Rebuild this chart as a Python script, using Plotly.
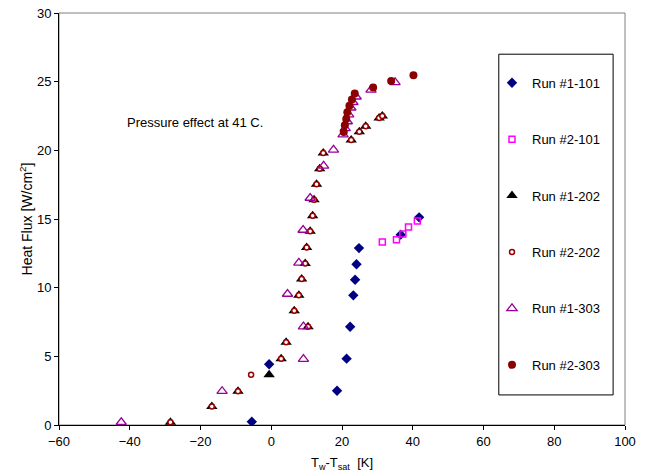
import plotly.graph_objects as go

# ---- data ----
run1_101_x = [-5.5, 18.6, -0.6, 21.3, 22.3, 23.2, 23.7, 24.1, 24.8, 36.6, 41.8]
run1_101_y = [0.24, 2.49, 4.42, 4.83, 7.15, 9.44, 10.58, 11.71, 12.88, 13.86, 15.12]

run2_101_x = [31.4, 35.4, 37.2, 38.8, 41.3]
run2_101_y = [13.33, 13.48, 13.91, 14.42, 14.86]

run1_202_x = [-28.5, -16.8, -9.4, -0.6, 2.8, 4.2, 10.4, 6.5, 7.8, 8.6, 9.6, 10.0, 11.0, 11.7,
              12.1, 12.8, 13.7, 14.7, 22.6, 24.9, 26.7, 30.5, 31.4]
run1_202_y = [0.2, 1.35, 2.46, 3.65, 4.82, 6.02, 7.15, 8.32, 9.44, 10.63, 11.76, 12.92, 14.1, 15.23,
              16.4, 17.53, 18.66, 19.8, 20.75, 21.35, 21.75, 22.35, 22.5]

run2_202_x = [-28.5, -16.8, -9.4, -5.7, 2.8, 4.2, 10.4, 6.5, 7.8, 8.6, 9.6, 10.0, 11.0, 11.7,
              12.1, 12.8, 13.7, 14.7, 22.6, 24.9, 26.7, 30.5, 31.4]
run2_202_y = [0.2, 1.35, 2.46, 3.66, 4.82, 6.02, 7.15, 8.32, 9.44, 10.63, 11.76, 12.92, 14.1, 15.23,
              16.4, 17.53, 18.66, 19.8, 20.75, 21.35, 21.75, 22.35, 22.5]

run1_303_x = [-42.4, -13.9, 9.1, 9.1, 4.6, 7.8, 9.0, 11.0, 14.8, 17.6, 20.3, 20.9, 21.5, 21.9,
              22.5, 23.1, 24.0, 28.2, 35.0]
run1_303_y = [0.2, 2.46, 4.8, 7.17, 9.54, 11.81, 14.2, 16.53, 18.87, 20.03, 21.15, 21.6, 22.1, 22.6,
              23.1, 23.5, 23.9, 24.4, 24.95]

run2_303_x = [20.5, 20.8, 21.2, 21.5, 22.1, 22.8, 23.6, 28.8, 33.9, 40.2]
run2_303_y = [21.33, 21.82, 22.28, 22.77, 23.25, 23.7, 24.13, 24.58, 25.04, 25.47]

x_ticks = [-60, -40, -20, 0, 20, 40, 60, 80, 100]
y_ticks = [0, 5, 10, 15, 20, 25, 30]

FONT = "Liberation Sans, Arial, sans-serif"

fig = go.Figure()

series = [
    ("Run #1-101", run1_101_x, run1_101_y, dict(symbol="diamond", size=8, color="#000080",
                                                 line=dict(width=0))),
    ("Run #2-101", run2_101_x, run2_101_y, dict(symbol="square-open", size=6, color="#FF00FF",
                                                 line=dict(width=1.5))),
    ("Run #1-202", run1_202_x, run1_202_y, dict(symbol="triangle-up", size=10, color="#000000",
                                                 line=dict(width=0))),
    ("Run #2-202", run2_202_x, run2_202_y, dict(symbol="circle", size=5, color="#FFFFFF",
                                                 line=dict(width=1.5, color="#990000"))),
    ("Run #1-303", run1_303_x, run1_303_y, dict(symbol="triangle-up-open", size=9, color="#990099",
                                                 line=dict(width=1.3))),
    ("Run #2-303", run2_303_x, run2_303_y, dict(symbol="circle", size=8, color="#8B0000",
                                                 line=dict(width=0))),
]

for i, (name, xs, ys, mk) in enumerate(series):
    fig.add_trace(go.Scatter(x=xs, y=ys, mode="markers", name=name, marker=mk,
                             legendgroup=f"g{i}"))

fig.update_layout(
    width=649, height=476,
    margin=dict(l=59, r=24, t=13, b=51),
    paper_bgcolor="white", plot_bgcolor="white",
    font=dict(family=FONT, size=13, color="#000000"),
    showlegend=True,
    legend=dict(
        x=0.765, y=0.867, xanchor="left", yanchor="top",
        bgcolor="rgba(0,0,0,0)", borderwidth=0,
        traceorder="grouped", tracegroupgap=36.5,
        font=dict(family=FONT, size=13, color="#000000"),
    ),
    xaxis=dict(
        range=[-60, 100], tickvals=x_ticks, showgrid=False, zeroline=False,
        showline=True, linecolor="#000000", linewidth=1, automargin=False,
        ticks="outside", ticklen=4, tickcolor="#000000",
        tickfont=dict(family=FONT, size=13, color="#000000"),
        title=dict(text="T<sub>w</sub>-T<sub>sat</sub>  [K]", standoff=10,
                   font=dict(family=FONT, size=13, color="#000000")),
    ),
    yaxis=dict(
        range=[0, 30], tickvals=y_ticks, showgrid=False, zeroline=False,
        showline=True, linecolor="#000000", linewidth=1, automargin=False,
        ticks="outside", ticklen=4, tickcolor="#000000",
        tickfont=dict(family=FONT, size=13, color="#000000"),
        title=dict(text="Heat Flux [W/cm<sup>2</sup>]", standoff=1,
                   font=dict(family=FONT, size=14, color="#000000")),
    ),
    shapes=[
        dict(type="rect", xref="paper", yref="paper", x0=0, y0=0, x1=1, y1=1,
             line=dict(color="#808080", width=1), layer="below"),
        dict(type="rect", xref="paper", yref="paper", x0=0.777, y0=0.073, x1=0.979, y1=0.900,
             line=dict(color="#000000", width=1), fillcolor="rgba(0,0,0,0)", layer="above"),
    ],
    annotations=[
        dict(text="Pressure effect at 41 C.", x=0.116, y=0.735, xref="paper", yref="paper",
             xanchor="left", yanchor="middle", showarrow=False,
             font=dict(family=FONT, size=13, color="#000000")),
    ],
)

fig.write_html("out.html")
